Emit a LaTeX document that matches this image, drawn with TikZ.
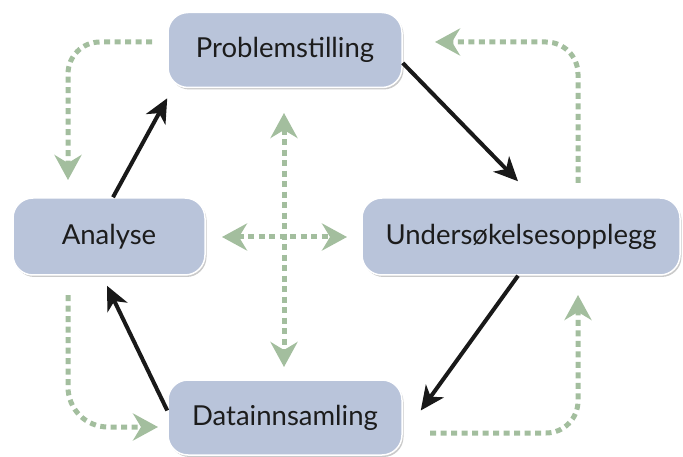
\documentclass[tikz,border=0pt]{standalone}
\usepackage{fontspec}
\setmainfont{Lato}
\usetikzlibrary{arrows.meta,shadows}
\definecolor{boxfill}{HTML}{B9C4DA}
\definecolor{greenarr}{HTML}{A3BE9E}
\definecolor{txt}{HTML}{1C1C1C}
\tikzset{
  stagebox/.style={rectangle, rounded corners=20pt, fill=boxfill, draw=white, line width=1.5pt,
    drop shadow={shadow xshift=1.5pt, shadow yshift=-2pt, opacity=0.35, fill=black!60},
    text=txt, font=\fontsize{27.5}{32}\selectfont, inner sep=0pt},
  blk/.style={line width=4pt, draw=black!90, -{Stealth[length=24pt,width=22pt,inset=7pt]}},
  gtip/.tip={Stealth[length=25pt,width=27pt,inset=8pt,fill=greenarr]},
  grn/.style={line width=5pt, draw=greenarr, dash pattern=on 6pt off 4.5pt, -gtip},
  grn2/.style={line width=5pt, draw=greenarr, dash pattern=on 6pt off 4.5pt, gtip-gtip}
}
\begin{document}
\begin{tikzpicture}[x=1pt,y=-1pt]
\useasboundingbox (0,0) rectangle (683,457);
\node[stagebox, minimum width=234pt, minimum height=75pt] (prob) at (285,50) {Problemstilling};
\node[stagebox, minimum width=192pt, minimum height=77pt] (ana) at (109,236.5) {Analyse};
\node[stagebox, minimum width=318pt, minimum height=77pt] (und) at (521,236.5) {Undersøkelsesopplegg};
\node[stagebox, minimum width=234pt, minimum height=75pt] (data) at (285,417.5) {Datainnsamling};
% black cycle arrows
\draw[blk] ([xshift=4pt]ana.north) -- ([yshift=-10pt]prob.south west);
\draw[blk] ([yshift=-13pt]prob.east) -- ([xshift=-3pt,yshift=16pt]und.north);
\draw[blk] ([xshift=-3pt]und.south) -- ([xshift=18pt,yshift=7pt]data.east);
\draw[blk] ([yshift=7pt]data.west) -- ([xshift=-2pt,yshift=-10pt]ana.south);
% green dashed feedback arrows
\coordinate (tl1) at (152,42); \coordinate (tl2) at (68,180);
\coordinate (tr1) at (578,183); \coordinate (tr2) at (435,42);
\coordinate (br1) at (430,433); \coordinate (br2) at (578,295);
\coordinate (bl1) at (68,295); \coordinate (bl2) at (158,427);
\draw[grn, rounded corners=32pt] (tl1) -| (tl2);
\draw[grn, rounded corners=32pt] (tr1) |- (tr2);
\draw[grn, rounded corners=32pt] (br1) -| (br2);
\draw[grn, rounded corners=40pt] (bl1) |- (bl2);
% centre cross
\coordinate (ct) at (284,113); \coordinate (cb) at (284,367);
\coordinate (cl) at (222,237); \coordinate (cr) at (347,237);
\draw[grn2] (ct) -- (cb);
\draw[grn2] (cl) -- (cr);
\end{tikzpicture}
\end{document}
